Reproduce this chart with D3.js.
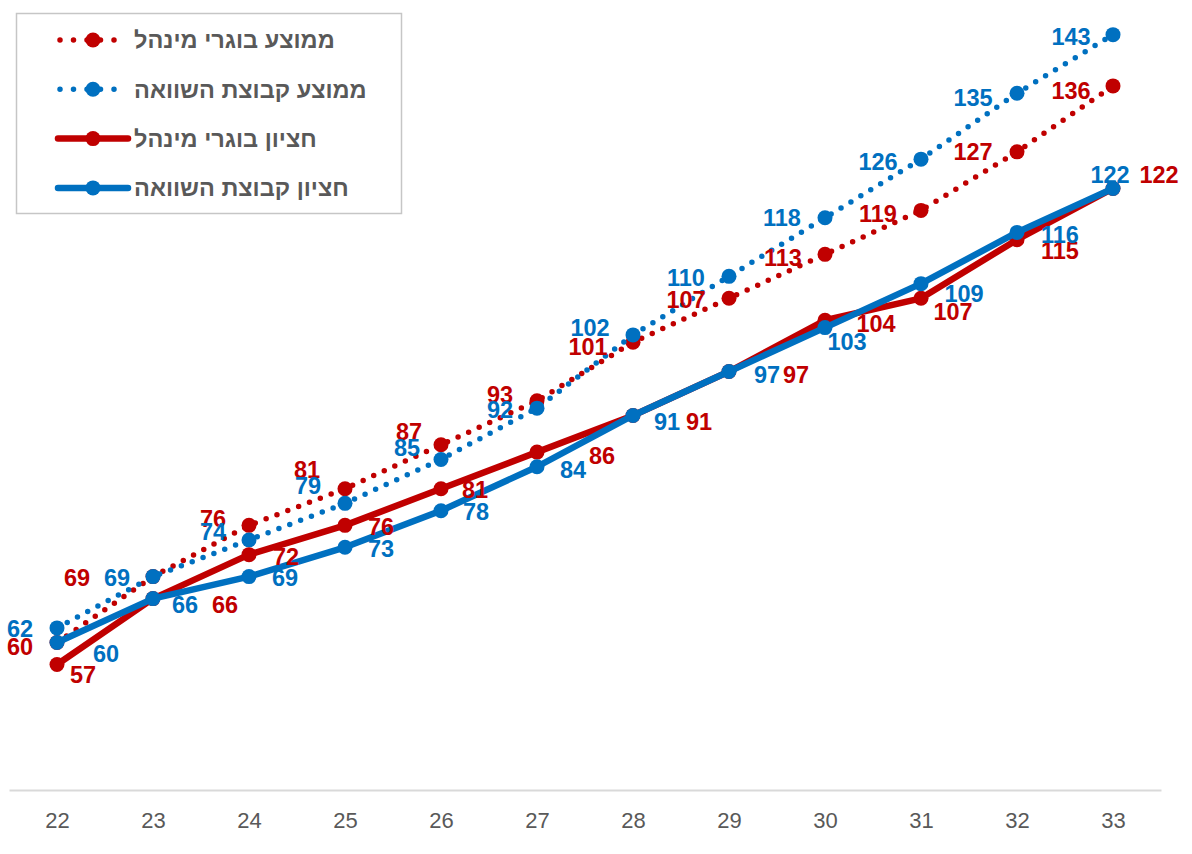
<!DOCTYPE html>
<html lang="he">
<head>
<meta charset="utf-8">
<script src="https://cdn.jsdelivr.net/npm/d3@7"></script>
<style>
  html, body { margin: 0; padding: 0; background: #ffffff; }
  svg { display: block; font-family: "Liberation Sans", Arial, sans-serif; }
</style>
</head>
<body>
<svg id="chart" width="1192" height="854"></svg>
<script>
// Age on the x axis
const categories = ["22", "23", "24", "25", "26", "27", "28", "29", "30", "31", "32", "33"];

// Series values
const avgGraduates  = [60, 69, 76, 81, 87, 93, 101, 107, 113, 119, 127, 136];
const avgComparison = [62, 69, 74, 79, 85, 92, 102, 110, 118, 126, 135, 143];
const medGraduates  = [57, 66, 72, 76, 81, 86, 91, 97, 104, 107, 115, 122];
const medComparison = [60, 66, 69, 73, 78, 84, 91, 97, 103, 109, 116, 122];

const seriesNames = [
  "ממוצע בוגרי מינהל",
  "ממוצע קבוצת השוואה",
  "חציון בוגרי מינהל",
  "חציון קבוצת השוואה"
];

const RED = "#C00000";
const BLUE = "#0070C0";

// Value-label placement (offset of the label centre from its marker)
const labelOffsets = [
  [[-37, 4], [-76, 1], [-36, -7], [-38, -19], [-32, -13], [-37, -6], [-45, 4], [-43, 1], [-42, 3], [-43, 3], [-44, 0], [-42, 5]],
  [[-37, 1], [-36, 1], [-36, -8], [-37, -18], [-34, -12], [-37, 1], [-43, -7], [-43, 1], [-43, 0], [-43, 2], [-44, 4], [-42, 2]],
  [[26, 10], [72, 6], [37, 2], [36, 1], [34, 1], [65, 3], [66, 6], [67, 3], [51, 3], [32, 13], [43, 11], [46, -14]],
  [[49, 11], [32, 6], [36, 1], [36, 1], [35, 1], [36, 3], [34, 6], [38, 3], [22, 14], [43, 10], [43, 2], [-3, -14]]
];

const series = [
  { name: seriesNames[0], values: avgGraduates,  color: RED,  dotted: true },
  { name: seriesNames[1], values: avgComparison, color: BLUE, dotted: true },
  { name: seriesNames[2], values: medGraduates,  color: RED,  dotted: false },
  { name: seriesNames[3], values: medComparison, color: BLUE, dotted: false }
];

const svg = d3.select("#chart");

const x = d3.scalePoint()
  .domain(categories)
  .range([9, 1161])
  .padding(0.5);

const y = d3.scaleLinear()
  .domain([40, 145])
  .range([789, 20]);

// x axis
const xAxis = svg.append("g")
  .attr("transform", "translate(0,790)")
  .call(d3.axisBottom(x).tickSize(0).tickSizeOuter(0).tickPadding(22));
xAxis.select(".domain").attr("stroke", "#d9d9d9").attr("stroke-width", 2);
xAxis.selectAll(".tick text")
  .attr("fill", "#595959")
  .style("font-size", "22px")
  .style("font-family", "'Liberation Sans', Arial, sans-serif");

const line = d3.line()
  .x((d, i) => x(categories[i]))
  .y(d => y(d));

// lines and markers, in series order
series.forEach(s => {
  const g = svg.append("g");
  g.append("path")
    .datum(s.values)
    .attr("d", line)
    .attr("fill", "none")
    .attr("stroke", s.color)
    .attr("stroke-width", s.dotted ? 5.5 : 6.5)
    .attr("stroke-linecap", "round")
    .attr("stroke-linejoin", "round")
    .attr("stroke-dasharray", s.dotted ? "0 11.6" : null);
  g.selectAll("circle")
    .data(s.values)
    .join("circle")
    .attr("cx", (d, i) => x(categories[i]))
    .attr("cy", d => y(d))
    .attr("r", 7.5)
    .attr("fill", s.color);
});

// value labels
series.forEach((s, si) => {
  svg.append("g")
    .selectAll("text")
    .data(s.values)
    .join("text")
    .attr("x", (d, i) => x(categories[i]) + labelOffsets[si][i][0])
    .attr("y", (d, i) => y(d) + labelOffsets[si][i][1])
    .attr("dy", "0.36em")
    .attr("text-anchor", "middle")
    .attr("fill", s.color)
    .style("font-size", "23.5px")
    .style("font-weight", "bold")
    .text(d => d);
});

// legend
const legend = svg.append("g");
legend.append("rect")
  .attr("x", 16.5).attr("y", 13.5)
  .attr("width", 385).attr("height", 200)
  .attr("fill", "#ffffff")
  .attr("stroke", "#c6c6c6")
  .attr("stroke-width", 1.5);

series.forEach((s, i) => {
  const ry = 40 + i * 49.3;
  const row = legend.append("g");
  if (s.dotted) {
    row.append("line")
      .attr("x1", 60).attr("x2", 115)
      .attr("y1", ry).attr("y2", ry)
      .attr("stroke", s.color)
      .attr("stroke-width", 5.5)
      .attr("stroke-linecap", "round")
      .attr("stroke-dasharray", "0 13.5");
  } else {
    row.append("line")
      .attr("x1", 58).attr("x2", 128)
      .attr("y1", ry).attr("y2", ry)
      .attr("stroke", s.color)
      .attr("stroke-width", 6.5)
      .attr("stroke-linecap", "round");
  }
  row.append("circle")
    .attr("cx", 93).attr("cy", ry).attr("r", 7.5)
    .attr("fill", s.color);
  row.append("text")
    .attr("x", 134).attr("y", ry)
    .attr("dy", "0.36em")
    .attr("text-anchor", "start")
    .attr("fill", "#595959")
    .style("font-size", "23.5px")
    .style("font-weight", "bold")
    .text(s.name);
});
</script>
</body>
</html>
